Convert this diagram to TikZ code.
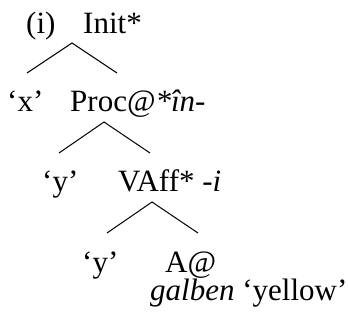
\documentclass[tikz,border=0pt]{standalone}
\usepackage{fontspec}
\setmainfont{Liberation Serif}
\begin{document}
\begin{tikzpicture}[x=1pt,y=-1pt,
  lbl/.style={anchor=base west,inner sep=0pt,font=\fontsize{31}{31}\selectfont},
  branch/.style={line width=1pt}]
\useasboundingbox (0,0) rectangle (348,322);
% labels, placed by their baselines
\node[lbl] (num)   at (26,33)  {(i)};
\node[lbl] (init)  at (83,33)  {Init*};
\node[lbl] (x)     at (7,111)  {‘x’};
\node[lbl] (proc)  at (70,111) {Proc@\textit{*în}-};
\node[lbl] (y1)    at (42,191) {‘y’};
\node[lbl] (vaff)  at (118,191){VAff* -\textit{i}};
\node[lbl] (y2)    at (82,272) {‘y’};
\node[lbl] (adj)   at (165,272){A@};
\node[lbl] (gloss) at (150,300){\textit{galben} ‘yellow’};
% branching points of the tree
\coordinate (i0) at (72,43);  \coordinate (i1) at (27,73);  \coordinate (i2) at (117,73);
\coordinate (p0) at (104,122);\coordinate (p1) at (59,153); \coordinate (p2) at (150,153);
\coordinate (v0) at (152,202);\coordinate (v1) at (107,233);\coordinate (v2) at (198,233);
\draw[branch] (i1) -- (i0) -- (i2);
\draw[branch] (p1) -- (p0) -- (p2);
\draw[branch] (v1) -- (v0) -- (v2);
\end{tikzpicture}
\end{document}
